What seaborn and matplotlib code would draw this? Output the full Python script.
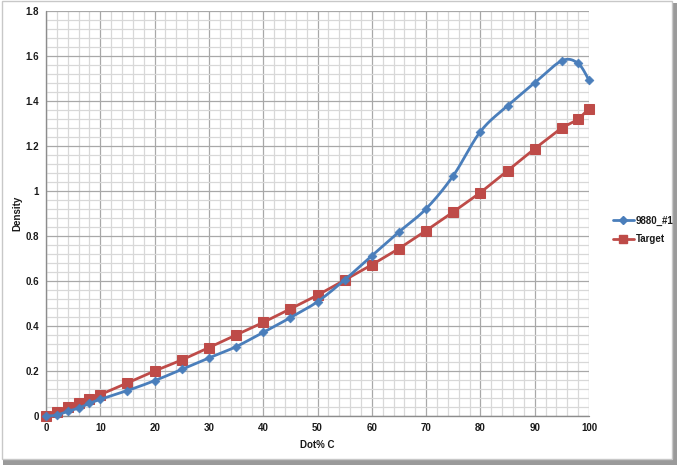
import numpy as np
import pandas as pd
import matplotlib
matplotlib.use("Agg")
import matplotlib.pyplot as plt
import seaborn as sns
from matplotlib.patches import Rectangle
from matplotlib.lines import Line2D
from matplotlib.ticker import MultipleLocator, FuncFormatter

# ---- data ----
dot_c = [0, 2, 4, 6, 8, 10, 15, 20, 25, 30, 35, 40, 45, 50, 55, 60, 65, 70, 75, 80, 85, 90, 95, 98, 100]
sample_9880 = [0.0, 0.004, 0.021, 0.035, 0.056, 0.074, 0.113, 0.157, 0.207, 0.258, 0.308, 0.372, 0.437, 0.508,
               0.605, 0.712, 0.818, 0.921, 1.068, 1.264, 1.379, 1.481, 1.579, 1.567, 1.492]
target = [0.0, 0.016, 0.040, 0.058, 0.076, 0.095, 0.147, 0.200, 0.249, 0.304, 0.360, 0.416, 0.476, 0.537,
          0.604, 0.672, 0.744, 0.824, 0.907, 0.993, 1.090, 1.188, 1.281, 1.318, 1.366]
series_names = ["9880_#1", "Target"]
x_ticks = [0, 10, 20, 30, 40, 50, 60, 70, 80, 90, 100]
y_ticks = [0, 0.2, 0.4, 0.6, 0.8, 1.0, 1.2, 1.4, 1.6, 1.8]

BLUE = "#4a7ebb"
RED = "#be4b48"


def smooth(xs, ys, n=30):
    """Excel-like smoothed line (Catmull-Rom / cardinal Bezier through the points)."""
    xs = np.asarray(xs, float)
    ys = np.asarray(ys, float)
    px, py = [], []
    m = len(xs)
    for i in range(m - 1):
        x0, y0 = (xs[i - 1], ys[i - 1]) if i > 0 else (xs[i], ys[i])
        x1, y1 = xs[i], ys[i]
        x2, y2 = xs[i + 1], ys[i + 1]
        x3, y3 = (xs[i + 2], ys[i + 2]) if i + 2 < m else (xs[i + 1], ys[i + 1])
        c1x, c1y = x1 + (x2 - x0) / 6, y1 + (y2 - y0) / 6
        c2x, c2y = x2 - (x3 - x1) / 6, y2 - (y3 - y1) / 6
        t = np.linspace(0, 1, n, endpoint=(i == m - 2))
        b0 = (1 - t) ** 3
        b1 = 3 * (1 - t) ** 2 * t
        b2 = 3 * (1 - t) * t ** 2
        b3 = t ** 3
        px.extend(b0 * x1 + b1 * c1x + b2 * c2x + b3 * x2)
        py.extend(b0 * y1 + b1 * c1y + b2 * c2y + b3 * y2)
    return np.array(px), np.array(py)


df_blue = pd.DataFrame({"x": dot_c, "y": sample_9880})
df_red = pd.DataFrame({"x": dot_c, "y": target})
sx, sy = smooth(dot_c, sample_9880)
df_blue_s = pd.DataFrame({"x": sx, "y": sy})

sns.set_style("white")
plt.rcParams["font.family"] = ["Liberation Sans", "DejaVu Sans"]

fig = plt.figure(figsize=(6.77, 4.65), dpi=100)
fig.patch.set_facecolor("white")
W, H = 677, 465
ax = fig.add_axes([46 / W, 1 - 416 / H, (589 - 46) / W, (416 - 11) / H])

ax.set_xlim(0, 100)
ax.set_ylim(0, 1.8)
ax.xaxis.set_major_locator(MultipleLocator(10))
ax.xaxis.set_minor_locator(MultipleLocator(2))
ax.yaxis.set_major_locator(MultipleLocator(0.2))
ax.yaxis.set_minor_locator(MultipleLocator(0.04))
ax.grid(which="major", color="#a8a8a8", lw=0.9)
ax.grid(which="minor", color="#d8d8d8", lw=0.9)
ax.set_axisbelow(True)
for s in ax.spines.values():
    s.set_visible(False)
ax.axvline(0, color="#8c8c8c", lw=1.0, zorder=1)
ax.axhline(0, color="#8c8c8c", lw=1.0, zorder=1)

# Target: straight line with square markers
sns.lineplot(data=df_red, x="x", y="y", ax=ax, color=RED, lw=2.0, marker="s",
             markersize=7, markeredgecolor=RED, zorder=3, legend=False)
# 9880_#1: smoothed line with diamond markers
sns.lineplot(data=df_blue_s, x="x", y="y", ax=ax, color=BLUE, lw=2.0, sort=False,
             zorder=4, legend=False)
sns.scatterplot(data=df_blue, x="x", y="y", ax=ax, color=BLUE, marker="D", s=20,
                edgecolor=BLUE, linewidth=0.5, zorder=5, legend=False)
for art in ax.lines + ax.collections:
    art.set_clip_on(False)

ax.set_xticks(x_ticks)
ax.set_yticks(y_ticks)
ax.yaxis.set_major_formatter(FuncFormatter(lambda v, p: f"{v:g}"))
ax.tick_params(axis="both", which="both", length=0, labelsize=7, colors="#1a1a1a", pad=5)
for lab in ax.get_xticklabels() + ax.get_yticklabels():
    lab.set_fontweight("bold")
ax.set_xlabel("Dot% C", fontsize=7, fontweight="bold", color="#1a1a1a", labelpad=5)
ax.set_ylabel("Density", fontsize=7, fontweight="bold", color="#1a1a1a", labelpad=2)

handles = [Line2D([0], [0], color=BLUE, lw=2.0, marker="D", markersize=4),
           Line2D([0], [0], color=RED, lw=2.0, marker="s", markersize=6)]
leg = fig.legend(handles, series_names, loc="center left", bbox_to_anchor=(604 / W, 1 - 230 / H),
                 frameon=False, prop={"size": 7, "weight": "bold"}, handlelength=2.2,
                 handletextpad=0.2, labelspacing=0.9)
for t in leg.get_texts():
    t.set_color("#1a1a1a")

# image frame with shadow
fig.add_artist(Rectangle((673 / W, 0), 4 / W, 1 - 3 / H, transform=fig.transFigure,
                         facecolor="#9a9a9a", edgecolor="none"))
fig.add_artist(Rectangle((3 / W, 0), 1 - 3 / W, 5 / H, transform=fig.transFigure,
                         facecolor="#9a9a9a", edgecolor="none"))
fig.add_artist(Rectangle((1.5 / W, 6.5 / H), (672 - 1.5) / W, (463.5 - 6.5) / H,
                         transform=fig.transFigure, facecolor="none", edgecolor="#c8c8c8", lw=1))

fig.savefig("out.png", dpi=100)
